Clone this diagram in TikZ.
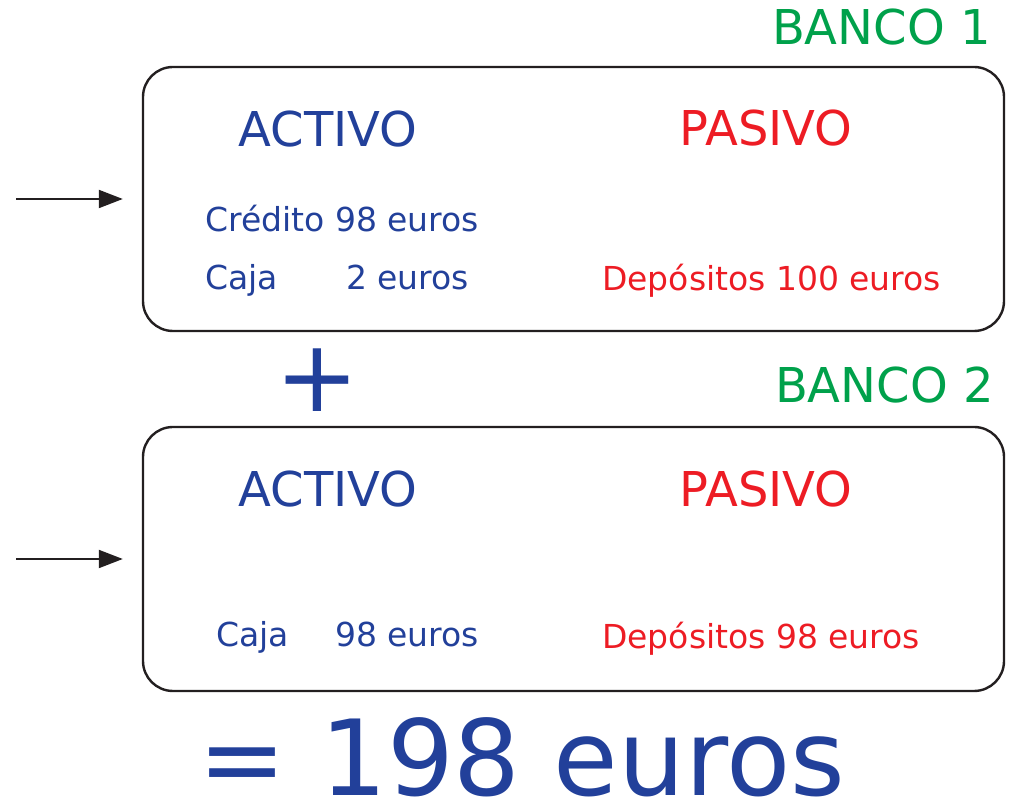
\documentclass[tikz,border=0pt]{standalone}
\usepackage{fontspec}
\setmainfont{DejaVu Sans}
\usetikzlibrary{arrows.meta,positioning}
\usepackage{xcolor}
\definecolor{bankblue}{RGB}{34,64,154}
\definecolor{bankred}{RGB}{237,28,36}
\definecolor{bankgreen}{RGB}{0,161,75}
\definecolor{inkgray}{RGB}{35,31,32}

\begin{document}
\begin{tikzpicture}[x=1pt, y=1pt,
  bankbox/.style={draw=inkgray, line width=2.4pt, rounded corners=30pt,
    minimum width=861pt, minimum height=264pt, inner sep=0pt},
  headtxt/.style={font=\fontsize{48}{50}\selectfont, inner sep=0pt},
  itemtxt/.style={font=\fontsize{33}{36}\selectfont, inner sep=0pt},
  hugetxt/.style={font=\fontsize{105}{110}\selectfont, inner sep=0pt, text=bankblue},
  feed/.style={-{Triangle[length=24pt,width=18pt]}, line width=2pt, draw=inkgray,
    shorten >=19pt}]
  \useasboundingbox (0,0) rectangle (1015,800);

  %% ── Banco 1 ───────────────────────────────────────────────
  \node[bankbox] (bank1) at (573.5,601) {};
  \node[headtxt, text=bankgreen, anchor=base east] (name1) at (991,755) {BANCO 1};
  \node[headtxt, text=bankblue, anchor=base] (act1) at (328,653) {ACTIVO};
  \node[headtxt, text=bankred, anchor=base] (pas1) at (766,654) {PASIVO};
  \node[itemtxt, text=bankblue, anchor=base west] (cred1) at (205,568) {Crédito 98 euros};
  \node[itemtxt, text=bankblue, anchor=base west] (caja1) at (205,510) {Caja};
  \node[itemtxt, text=bankblue, anchor=base west] (cajaval1) at (346,510) {2 euros};
  \node[itemtxt, text=bankred, anchor=base west] (dep1) at (602,509) {Depósitos 100 euros};
  \coordinate (src1) at (16,601);
  \draw[feed] (src1) -- (bank1.west);

  %% plus sign between the banks
  \node[font=\fontsize{100}{100}\selectfont, text=bankblue, inner sep=0pt] (plus) at (317.5,419.5) {+};

  %% ── Banco 2 ───────────────────────────────────────────────
  \node[bankbox] (bank2) at (573.5,241) {};
  \node[headtxt, text=bankgreen, anchor=base east] (name2) at (994,397) {BANCO 2};
  \node[headtxt, text=bankblue, anchor=base] (act2) at (328,293) {ACTIVO};
  \node[headtxt, text=bankred, anchor=base] (pas2) at (766,293) {PASIVO};
  \node[itemtxt, text=bankblue, anchor=base west] (caja2) at (216,153) {Caja};
  \node[itemtxt, text=bankblue, anchor=base west] (cajaval2) at (335,153) {98 euros};
  \node[itemtxt, text=bankred, anchor=base west] (dep2) at (602,151) {Depósitos 98 euros};
  \coordinate (src2) at (16,241);
  \draw[feed] (src2) -- (bank2.west);

  %% total
  \node[hugetxt, anchor=base] (total) at (522,4) {= 198 euros};
\end{tikzpicture}
\end{document}
